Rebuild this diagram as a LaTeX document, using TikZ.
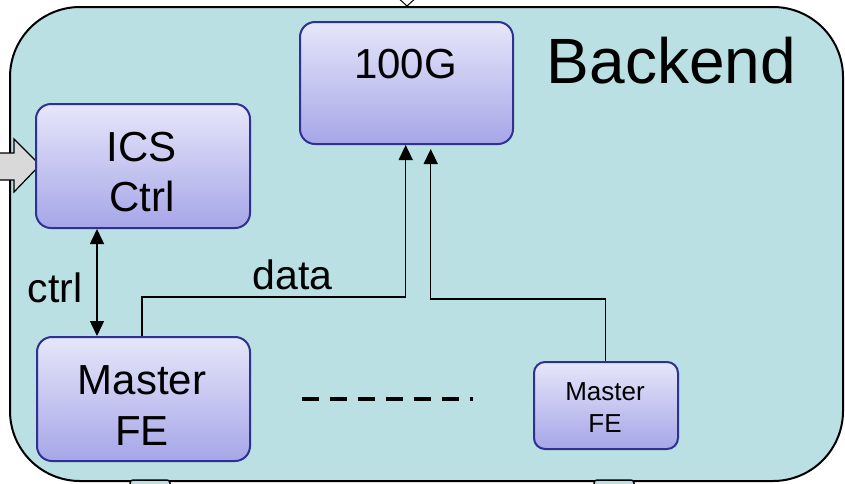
\documentclass[tikz,border=0pt]{standalone}
\usepackage{fontspec}
\setmainfont{Liberation Sans}
\usetikzlibrary{arrows.meta}

\definecolor{backfill}{HTML}{BAE0E3}
\definecolor{boxtop}{HTML}{E6E6FA}
\definecolor{boxbot}{HTML}{A6A6E8}
\definecolor{boxline}{HTML}{2E3192}
\definecolor{feedgray}{HTML}{D9D9D9}

\tikzset{
  unit box/.style={draw=boxline, line width=2pt, top color=boxtop, bottom color=boxbot,
    rounded corners=15pt, inner sep=0pt, anchor=north west},
  big text/.style={font=\fontsize{42}{50}\selectfont, inner sep=0pt, align=center},
  small text/.style={font=\fontsize{26}{32}\selectfont, inner sep=0pt, align=center},
  link/.style={line width=1.5pt, -{Triangle[width=14pt,length=15pt]}},
  both link/.style={line width=1.5pt, {Triangle[width=14pt,length=15pt]}-{Triangle[width=14pt,length=15pt]}},
}

\begin{document}
\begin{tikzpicture}[x=1pt, y=-1pt]
  \useasboundingbox[fill=white] (0,0) rectangle (845,483);

  % enclosing backend region
  \draw[fill=backfill, line width=2pt, rounded corners=70pt] (10,7) rectangle (843,481);

  % incoming arrow head from above
  \draw[fill=white, line width=1pt] (396,-4) -- (418,-4) -- (407,6) -- cycle;

  % stubs of the shapes attached below
  \draw[fill=backfill, line width=1.5pt, rounded corners=3pt] (130,490) rectangle (170,480);
  \draw[fill=backfill, line width=1.5pt, rounded corners=3pt] (594,490) rectangle (634,480);

  % grey control-feed block arrow on the left
  \draw[fill=feedgray, line width=1.2pt]
    (-5,153) -- (14,153) -- (14,139) -- (40,165) -- (14,192) -- (14,180) -- (-5,180) -- cycle;

  % units
  \node[unit box, minimum width=213pt, minimum height=122pt] (g) at (299,21) {};
  \node[unit box, minimum width=214pt, minimum height=124pt] (ics) at (35,103) {};
  \node[unit box, minimum width=213pt, minimum height=124pt] (mfe) at (36,336) {};
  \node[unit box, rounded corners=11pt, minimum width=144pt, minimum height=87pt] (sfe) at (533,361) {};

  % texts
  \node[big text, anchor=base] (gtxt) at (405.5,78) {100G};
  \node[font=\fontsize{64}{70}\selectfont, inner sep=0pt, anchor=base] (back) at (671.5,83) {Backend};
  \node[big text, anchor=south] (icstxt) at (142,212) {ICS\\Ctrl};
  \node[big text, anchor=south, font=\fontsize{42}{51}\selectfont] (mfetxt) at (142,446) {Master\\FE};
  \node[small text, anchor=south] (sfetxt) at (605,433) {Master\\FE};
  \node[font=\fontsize{41}{48}\selectfont, inner sep=0pt, anchor=base] (ctrllbl) at (55,302) {ctrl};
  \node[font=\fontsize{41}{48}\selectfont, inner sep=0pt, anchor=base] (datalbl) at (292.5,289) {data};

  % routing points
  \coordinate (cx) at (97,0);
  \coordinate (d1) at (142,297);
  \coordinate (dx) at (405.7,0);
  \coordinate (s1) at (605.7,299);
  \coordinate (sx) at (430.7,0);

  % connectors
  \draw[both link] (ics.south -| cx) -- (mfe.north -| cx);
  \draw[link] (mfe.north -| d1) -- (d1) -| (g.south -| dx);
  \draw[link, shorten >=4pt] (sfe.north -| s1) -- (s1) -| (g.south -| sx);

  % ellipsis between front ends
  \coordinate (e1) at (302,399);
  \coordinate (e2) at (473,399);
  \draw[line width=4pt, dash pattern=on 16.7pt off 11.3pt] (e1) -- (e2);
\end{tikzpicture}
\end{document}
